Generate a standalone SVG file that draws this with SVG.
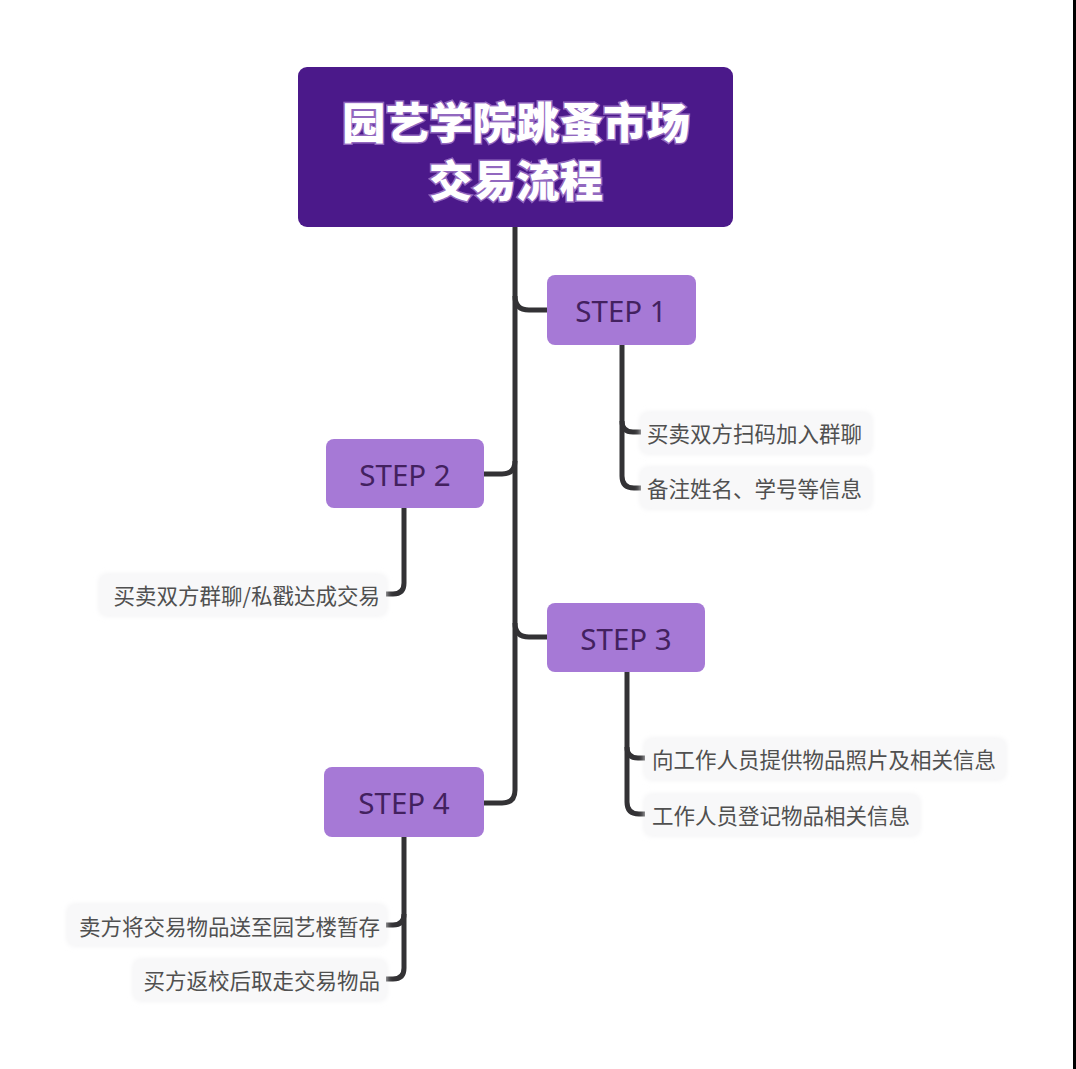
<svg xmlns="http://www.w3.org/2000/svg" width="1076" height="1069" viewBox="0 0 1076 1069">
<defs>
<filter id="sh" x="-10%" y="-30%" width="120%" height="160%"><feGaussianBlur stdDeviation="3"/></filter>
<style>
.title{font-family:"Noto Sans CJK SC","Noto Sans",sans-serif;font-weight:900;font-size:43.5px;fill:#ffffff;text-anchor:middle;dominant-baseline:central}
.titleglow{font-family:"Noto Sans CJK SC","Noto Sans",sans-serif;font-weight:900;font-size:43.5px;fill:#f0d8ff;text-anchor:middle;dominant-baseline:central;stroke:#e8c8ff;stroke-width:3;opacity:0.45}
.step{fill:#a679d6}
.steptxt{font-family:"Noto Sans","Liberation Sans",sans-serif;font-size:29.5px;fill:#43215f;text-anchor:middle;dominant-baseline:central}
.leafbg{fill:#eeeef0;filter:url(#sh)}
.leafbg2{fill:#f8f8f9}
.leaf{font-family:"Noto Sans CJK SC","Noto Sans",sans-serif;font-size:21.5px;fill:#505050;dominant-baseline:central}
.end{text-anchor:end}
.conn{fill:none;stroke:#333235;stroke-width:5;stroke-linecap:butt;stroke-linejoin:round}
</style>
</defs>
<rect width="1076" height="1069" fill="#ffffff"/>
<rect x="1073" y="0" width="3" height="1069" fill="#000000"/>

<g id="connectors">
<path class="conn" d="M515,227 L515,790 Q515,803 502,803 L484,803"/>
<path class="conn" d="M515,296 Q515,310 529,310 L547,310"/>
<path class="conn" d="M484,474 L502,474 Q515,474 515,461"/>
<path class="conn" d="M515,623 Q515,637 529,637 L547,637"/>
<path class="conn" d="M622,345 L622,476 Q622,488 634,488 L641,488"/>
<path class="conn" d="M622,421 Q622,432 633,432 L641,432"/>
<path class="conn" d="M404,508 L404,583 Q404,594 393,594 L386,594"/>
<path class="conn" d="M627,672 L627,802 Q627,814 639,814 L645,814"/>
<path class="conn" d="M627,747 Q627,758 638,758 L645,758"/>
<path class="conn" d="M404,837 L404,968 Q404,979 393,979 L386,979"/>
<path class="conn" d="M404,914 Q404,925 393,925 L386,925"/>
</g>

<g id="title">
<rect x="298" y="67" width="435" height="160" rx="9" fill="#4b198a"/>
<text class="titleglow" x="516" y="120">园艺学院跳蚤市场</text>
<text class="titleglow" x="516" y="178">交易流程</text>
<text class="title" x="516" y="120">园艺学院跳蚤市场</text>
<text class="title" x="516" y="178">交易流程</text>
</g>

<g id="step1">
<rect class="step" x="547" y="275" width="149" height="70" rx="8"/>
<text class="steptxt" x="621" y="310">STEP 1</text>
</g>
<g id="step2">
<rect class="step" x="326" y="439" width="158" height="69" rx="8"/>
<text class="steptxt" x="405" y="474">STEP 2</text>
</g>
<g id="step3">
<rect class="step" x="547" y="603" width="158" height="69" rx="8"/>
<text class="steptxt" x="626" y="638">STEP 3</text>
</g>
<g id="step4">
<rect class="step" x="324" y="767" width="160" height="70" rx="8"/>
<text class="steptxt" x="404" y="802">STEP 4</text>
</g>

<g id="leaf1a">
<rect class="leafbg" x="641" y="413" width="230" height="40" rx="6"/>
<rect class="leafbg2" x="641" y="413" width="230" height="40" rx="6"/>
<text class="leaf" x="647" y="432">买卖双方扫码加入群聊</text>
</g>
<g id="leaf1b">
<rect class="leafbg" x="641" y="468" width="230" height="40" rx="6"/>
<rect class="leafbg2" x="641" y="468" width="230" height="40" rx="6"/>
<text class="leaf" x="647" y="487">备注姓名、学号等信息</text>
</g>
<g id="leaf2">
<rect class="leafbg" x="100" y="575" width="286" height="40" rx="6"/>
<rect class="leafbg2" x="100" y="575" width="286" height="40" rx="6"/>
<text class="leaf end" x="380" y="594">买卖双方群聊/私戳达成交易</text>
</g>
<g id="leaf3a">
<rect class="leafbg" x="645" y="739" width="360" height="40" rx="6"/>
<rect class="leafbg2" x="645" y="739" width="360" height="40" rx="6"/>
<text class="leaf" x="652" y="758">向工作人员提供物品照片及相关信息</text>
</g>
<g id="leaf3b">
<rect class="leafbg" x="645" y="795" width="274" height="40" rx="6"/>
<rect class="leafbg2" x="645" y="795" width="274" height="40" rx="6"/>
<text class="leaf" x="652" y="814">工作人员登记物品相关信息</text>
</g>
<g id="leaf4a">
<rect class="leafbg" x="68" y="905" width="318" height="40" rx="6"/>
<rect class="leafbg2" x="68" y="905" width="318" height="40" rx="6"/>
<text class="leaf end" x="380" y="925">卖方将交易物品送至园艺楼暂存</text>
</g>
<g id="leaf4b">
<rect class="leafbg" x="134" y="960" width="252" height="40" rx="6"/>
<rect class="leafbg2" x="134" y="960" width="252" height="40" rx="6"/>
<text class="leaf end" x="380" y="979">买方返校后取走交易物品</text>
</g>
</svg>
